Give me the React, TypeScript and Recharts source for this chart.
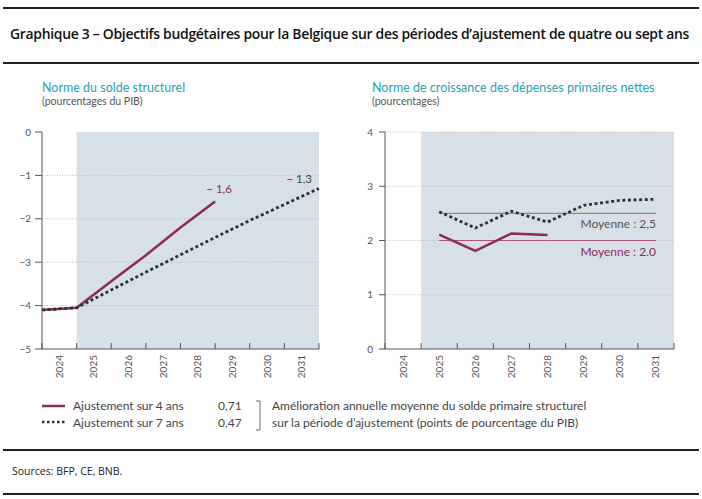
import React from 'react';
import {
  LineChart,
  Line,
  XAxis,
  YAxis,
  ReferenceArea,
  ReferenceLine,
} from 'recharts';

// years shown on both x axes
const yearLabels = [2024, 2025, 2026, 2027, 2028, 2029, 2030, 2031];

// left panel: structural balance, end-of-year values (% of GDP)
const soldeYears = [2023, 2024, 2025, 2026, 2027, 2028, 2029, 2030, 2031];
const solde4ans = [-4.1, -4.05, -3.44, -2.84, -2.2, -1.6, null, null, null];
const solde7ans = [-4.1, -4.05, -3.64, -3.23, -2.83, -2.43, -2.04, -1.67, -1.3];
const soldeTicks = [0, -1, -2, -3, -4, -5];

// right panel: growth norm for net primary expenditure (%)
const croissYears = [2025, 2026, 2027, 2028, 2029, 2030, 2031];
const croiss4ans = [2.11, 1.81, 2.13, 2.1, null, null, null];
const croiss7ans = [2.53, 2.23, 2.54, 2.34, 2.65, 2.74, 2.76];
const moyenne4ans = [2.0, 2.0, 2.0, 2.0, 2.0, 2.0, 2.0];
const moyenne7ans = [2.5, 2.5, 2.5, 2.5, 2.5, 2.5, 2.5];
const croissTicks = [0, 1, 2, 3, 4];

const PINK = '#8c2a5b';
const DARK = '#2b323a';
const SHADE = '#d7e0e7';
const AXIS = '#555';
const TEAL = '#2a9fb5';
const FONT = 'Lato, "Open Sans", sans-serif';

const soldeData = soldeYears.map((y, i) => ({
  x: y + 0.5,
  a4: solde4ans[i],
  a7: solde7ans[i],
}));

const croissData = croissYears.map((y, i) => ({
  x: y,
  a4: croiss4ans[i],
  a7: croiss7ans[i],
  m4: moyenne4ans[i],
  m7: moyenne7ans[i],
}));

// labels at the years, tick marks on the boundaries between them
const xTicks: number[] = [yearLabels[0] - 0.5];
yearLabels.forEach((y) => xTicks.push(y, y + 0.5));

const minus = (v: number) => String(v).replace('-', '\u2212');

const YearTick = (props: any) => {
  const { x, y, payload } = props;
  const v = payload.value;
  if (Number.isInteger(v)) {
    return (
      <text
        x={x}
        y={y + 6}
        transform={`rotate(-90 ${x} ${y + 6})`}
        textAnchor="end"
        dy="0.35em"
        fontSize={10}
        fill={AXIS}
        fontFamily={FONT}
      >
        {v}
      </text>
    );
  }
  return <line x1={x} x2={x} y1={y} y2={y - 6} stroke={AXIS} strokeWidth={1} />;
};

const lastLabel = (text: string, color: string, dx: number, dy: number, anchor: string, n: number, size = 11) =>
  (props: any) => {
    const { x, y, index } = props;
    if (index !== n - 1) return null;
    return (
      <text x={x + dx} y={y + dy} textAnchor={anchor} fontSize={size} fill={color} fontFamily={FONT}>
        {text}
      </text>
    );
  };

const gridLine = (v: number) => (
  <ReferenceLine key={v} y={v} stroke="#b9bfc4" strokeDasharray="1 1.5" strokeWidth={1} />
);

const rule = (top: number) => (
  <div style={{ position: 'absolute', left: 3, top, width: 696, height: 1.5, background: '#222' }} />
);

export default function App() {
  return (
    <div
      style={{
        position: 'absolute',
        left: 0,
        top: 0,
        width: 702,
        height: 499,
        background: '#fff',
        fontFamily: FONT,
        overflow: 'hidden',
      }}
    >
      {rule(7)}
      <div
        style={{
          position: 'absolute',
          left: 10,
          top: 24,
          fontSize: 13.95,
          fontWeight: 600,
          color: '#111',
          whiteSpace: 'nowrap',
          fontFamily: '"Open Sans", sans-serif',
          letterSpacing: -0.3,
        }}
      >
        Graphique 3 – Objectifs budgétaires pour la Belgique sur des périodes d’ajustement de quatre ou sept ans
      </div>
      {rule(62)}

      <div style={{ position: 'absolute', left: 42, top: 80, fontSize: 12.5, color: TEAL, whiteSpace: 'nowrap' }}>
        Norme du solde structurel
      </div>
      <div style={{ position: 'absolute', left: 42, top: 95, fontSize: 10.5, color: '#555', whiteSpace: 'nowrap' }}>
        (pourcentages du PIB)
      </div>
      <div style={{ position: 'absolute', left: 372, top: 80, fontSize: 12.5, color: TEAL, whiteSpace: 'nowrap' }}>
        Norme de croissance des dépenses primaires nettes
      </div>
      <div style={{ position: 'absolute', left: 372, top: 95, fontSize: 10.5, color: '#555', whiteSpace: 'nowrap' }}>
        (pourcentages)
      </div>

      <div style={{ position: 'absolute', left: 0, top: 0 }}>
        <LineChart width={330} height={390} data={soldeData} margin={{ top: 132, right: 11, bottom: 5, left: 0 }}>
          <ReferenceArea x1={2024.5} x2={2031.5} y1={-5} y2={0} fill={SHADE} fillOpacity={1} stroke="none" />
          {[-1, -2, -3, -4].map(gridLine)}
          <XAxis
            dataKey="x"
            type="number"
            domain={[2023.5, 2031.5]}
            ticks={xTicks}
            interval={0}
            tickLine={false}
            tickSize={0}
            tickMargin={0}
            height={36}
            tick={<YearTick />}
            axisLine={{ stroke: AXIS }}
          />
          <YAxis
            domain={[-5, 0]}
            ticks={soldeTicks}
            width={42}
            tickSize={7}
            tickMargin={4}
            tickFormatter={minus}
            tick={{ fontSize: 10, fill: AXIS, fontFamily: FONT }}
            axisLine={{ stroke: AXIS }}
            tickLine={{ stroke: AXIS }}
          />
          <Line
            dataKey="a4"
            stroke={PINK}
            strokeWidth={2.5}
            dot={false}
            isAnimationActive={false}
            label={lastLabel('\u2212 1,6', PINK, 4, -8, 'middle', 6, 11.5)}
          />
          <Line
            dataKey="a7"
            stroke={DARK}
            strokeWidth={2.8}
            strokeDasharray="3 2.6"
            dot={false}
            isAnimationActive={false}
            label={lastLabel('\u2212 1,3', '#444', -7, -5, 'end', soldeYears.length, 11.5)}
          />
        </LineChart>
      </div>

      <div style={{ position: 'absolute', left: 340, top: 0 }}>
        <LineChart width={345} height={390} data={croissData} margin={{ top: 132, right: 11, bottom: 5, left: 0 }}>
          <ReferenceArea x1={2024.5} x2={2031.5} y1={0} y2={4} fill={SHADE} fillOpacity={1} stroke="none" />
          {[1, 2, 3, 4].map(gridLine)}
          <XAxis
            dataKey="x"
            type="number"
            domain={[2023.5, 2031.5]}
            ticks={xTicks}
            interval={0}
            tickLine={false}
            tickSize={0}
            tickMargin={0}
            height={36}
            tick={<YearTick />}
            axisLine={{ stroke: AXIS }}
          />
          <YAxis
            domain={[0, 4]}
            ticks={croissTicks}
            width={45}
            tickSize={6}
            tickMargin={6}
            tick={{ fontSize: 10, fill: AXIS, fontFamily: FONT }}
            axisLine={{ stroke: AXIS }}
            tickLine={{ stroke: AXIS }}
          />
          <Line
            dataKey="m7"
            stroke="#8a8a8a"
            strokeWidth={1.3}
            dot={false}
            isAnimationActive={false}
            label={lastLabel('Moyenne : 2,5', '#555', 0, 15, 'end', croissYears.length, 12)}
          />
          <Line
            dataKey="m4"
            stroke="#a9537f"
            strokeWidth={1}
            dot={false}
            isAnimationActive={false}
            label={lastLabel('Moyenne : 2.0', PINK, 0, 15, 'end', croissYears.length, 12)}
          />
          <Line dataKey="a4" stroke={PINK} strokeWidth={2.5} dot={false} isAnimationActive={false} />
          <Line
            dataKey="a7"
            stroke={DARK}
            strokeWidth={2.8}
            strokeDasharray="3 2.6"
            dot={false}
            isAnimationActive={false}
          />
        </LineChart>
      </div>

      {/* legend */}
      <svg style={{ position: 'absolute', left: 0, top: 390 }} width={702} height={50}>
        <line x1={42} x2={65} y1={16} y2={16} stroke={PINK} strokeWidth={2.5} />
        <line x1={42} x2={65} y1={32} y2={32} stroke={DARK} strokeWidth={2.5} strokeDasharray="2.5 2.5" />
        <path d="M256 11 H260 V40 H256" fill="none" stroke="#666" strokeWidth={1} />
      </svg>
      <div style={{ position: 'absolute', left: 73, top: 398, fontSize: 12, color: '#444', lineHeight: '16.5px', whiteSpace: 'nowrap' }}>
        Ajustement sur 4 ans
        <br />
        Ajustement sur 7 ans
      </div>
      <div style={{ position: 'absolute', left: 218, top: 398, fontSize: 12, color: '#444', lineHeight: '16.5px' }}>
        0,71
        <br />
        0,47
      </div>
      <div style={{ position: 'absolute', left: 272, top: 398, fontSize: 12, color: '#444', lineHeight: '16.5px', whiteSpace: 'nowrap' }}>
        Amélioration annuelle moyenne du solde primaire structurel
        <br />
        sur la période d’ajustement (points de pourcentage du PIB)
      </div>

      {rule(449)}
      <div
        style={{
          position: 'absolute',
          left: 12,
          top: 464,
          fontSize: 10.5,
          color: '#222',
          fontFamily: '"Open Sans", sans-serif',
          whiteSpace: 'nowrap',
        }}
      >
        Sources: BFP, CE, BNB.
      </div>
      {rule(493)}
    </div>
  );
}
